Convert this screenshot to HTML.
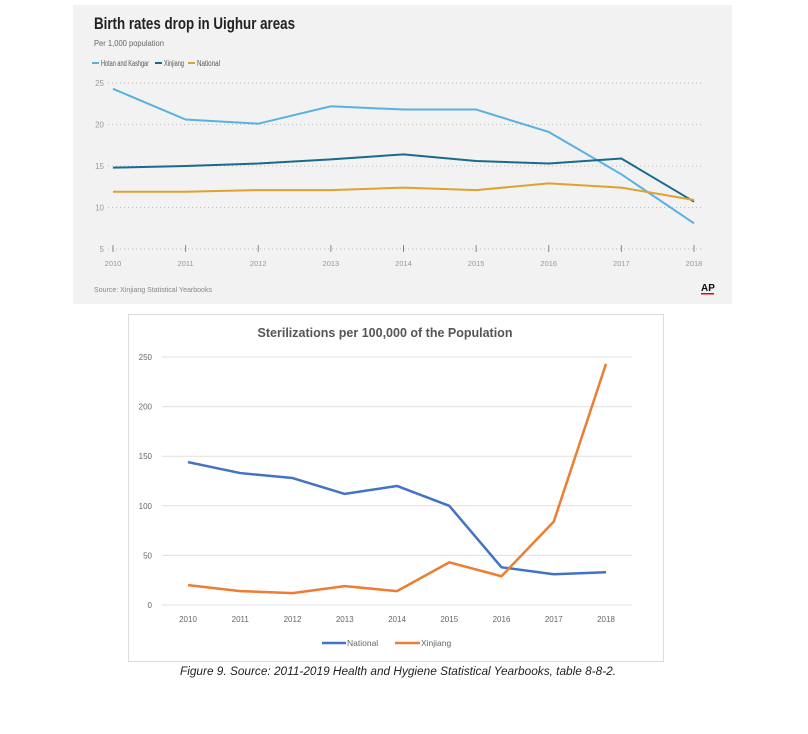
<!DOCTYPE html>
<html><head><meta charset="utf-8"><style>
body{margin:0;width:808px;height:734px;background:#fff;overflow:hidden;font-family:"Liberation Sans",sans-serif}
svg{position:absolute;left:0;top:0}
</style></head><body>
<svg width="808" height="734">
<rect x="73" y="5" width="659" height="299" fill="#f2f2f2"/>
<text x="94" y="29" font-size="17" font-weight="bold" fill="#222" textLength="201" lengthAdjust="spacingAndGlyphs">Birth rates drop in Uighur areas</text>
<text x="94" y="46" font-size="8" fill="#666" textLength="70" lengthAdjust="spacingAndGlyphs">Per 1,000 population</text>
<g font-size="8" fill="#555">
<line x1="92" y1="63" x2="99" y2="63" stroke="#5ab1e1" stroke-width="2"/><text x="101" y="66" textLength="48" lengthAdjust="spacingAndGlyphs">Hotan and Kashgar</text>
<line x1="155" y1="63" x2="162" y2="63" stroke="#186a8e" stroke-width="2"/><text x="164" y="66" textLength="20" lengthAdjust="spacingAndGlyphs">Xinjiang</text>
<line x1="188" y1="63" x2="195" y2="63" stroke="#dfa12f" stroke-width="2"/><text x="197" y="66" textLength="23" lengthAdjust="spacingAndGlyphs">National</text>
</g>
<g id="topPlot"></g>
<text x="94" y="292" font-size="7.5" fill="#888" textLength="118" lengthAdjust="spacingAndGlyphs">Source: Xinjiang Statistical Yearbooks</text>
<text x="701" y="291" font-size="10" font-weight="bold" fill="#111">AP</text>
<rect x="701" y="293" width="13" height="1.5" fill="#e4002b"/>

<rect x="128.5" y="314.5" width="535" height="347" fill="#fff" stroke="#ddd"/>
<text x="385" y="337" font-size="12.5" font-weight="bold" fill="#555" text-anchor="middle">Sterilizations per 100,000 of the Population</text>
<g id="botPlot"></g>
<g font-size="8.5" fill="#666">
<line x1="322" y1="643" x2="346" y2="643" stroke="#4472c4" stroke-width="2.5"/><text x="347" y="646">National</text>
<line x1="395" y1="643" x2="420" y2="643" stroke="#ed7d31" stroke-width="2.5"/><text x="421" y="646">Xinjiang</text>
</g>
<text x="398" y="675" font-size="11.5" font-style="italic" fill="#222" text-anchor="middle" textLength="436" lengthAdjust="spacingAndGlyphs">Figure 9. Source: 2011-2019 Health and Hygiene Statistical Yearbooks, table 8-8-2.</text>
</svg>
<script>
const years=["2010","2011","2012","2013","2014","2015","2016","2017","2018"];
const hotan=[24.3,20.6,20.1,22.2,21.8,21.8,19.1,14.0,8.1];
const xinjiangBirth=[14.8,15.0,15.3,15.8,16.4,15.6,15.3,15.9,10.7];
const nationalBirth=[11.9,11.9,12.1,12.1,12.4,12.1,12.9,12.4,10.9];
const topTicks=[5,10,15,20,25];
const sterNational=[144,133,128,112,120,100,38,31,33];
const sterXinjiang=[20,14,12,19,14,43,29,84,243];
const botTicks=[0,50,100,150,200,250];
const NS="http://www.w3.org/2000/svg";
function mk(p,t,a){const e=document.createElementNS(NS,t);for(const k in a)e.setAttribute(k,a[k]);p.appendChild(e);return e;}
const topG=document.getElementById('topPlot');
const tx=i=>113+i*(694-113)/8, ty=v=>249-(v-5)*(249-83)/20;
topTicks.forEach(v=>{
 const l=mk(topG,'line',{x1:108,x2:702,y1:ty(v),y2:ty(v),stroke:'#bbb','stroke-dasharray':'1 3'});
 
 
 const t=mk(topG,'text',{x:104,y:ty(v)+3,'font-size':8,fill:'#999','text-anchor':'end'});t.textContent=v;
 
 
});
years.forEach((y,i)=>{
 mk(topG,'line',{x1:tx(i),x2:tx(i),y1:245,y2:252,stroke:'#888'});
 const t=mk(topG,'text',{x:tx(i),y:266,'font-size':7.5,fill:'#999','text-anchor':'middle'});t.textContent=y;
 
 
});
[[hotan,'#5ab1e1','hotan-line'],[xinjiangBirth,'#186a8e','xinjiang-birth-line'],[nationalBirth,'#dfa12f','national-birth-line']].forEach(([d,c,n])=>{
 const p=mk(topG,'polyline',{points:d.map((v,i)=>tx(i)+','+ty(v)).join(' '),fill:'none',stroke:c,'stroke-width':2});
 
 
});
const botG=document.getElementById('botPlot');
const bx=i=>188+i*(606-188)/8, by=v=>605-v*(605-357)/250;
botTicks.forEach(v=>{
 const l=mk(botG,'line',{x1:162,x2:632,y1:by(v),y2:by(v),stroke:'#e0e0e0','stroke-width':1});
 
 
 const t=mk(botG,'text',{x:152,y:by(v)+3,'font-size':8,fill:'#666','text-anchor':'end'});t.textContent=v;
 
 
});
years.forEach((y,i)=>{
 const t=mk(botG,'text',{x:bx(i),y:622,'font-size':8,fill:'#666','text-anchor':'middle'});t.textContent=y;
 
 
});
[[sterNational,'#4472c4','national-sterilization-line'],[sterXinjiang,'#ed7d31','xinjiang-sterilization-line']].forEach(([d,c,n])=>{
 const p=mk(botG,'polyline',{points:d.map((v,i)=>bx(i)+','+by(v)).join(' '),fill:'none',stroke:c,'stroke-width':2.5,'stroke-linejoin':'round'});
 
 
});
</script>
</body></html>
